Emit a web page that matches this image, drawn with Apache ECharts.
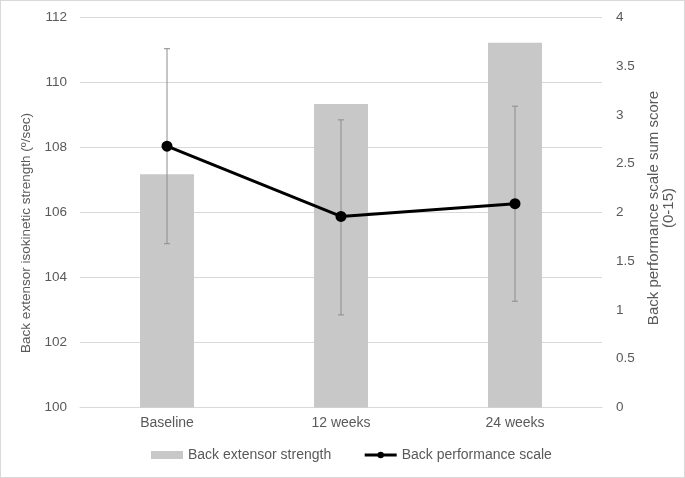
<!DOCTYPE html>
<html>
<head>
<meta charset="utf-8">
<script src="https://cdn.jsdelivr.net/npm/echarts@6/dist/echarts.min.js"></script>
<style>
	html, body { margin: 0; padding: 0; background: #fff; }
	#chart { width: 683px; height: 476px; border: 1px solid #d9d9d9; }
</style>
</head>
<body>
<div id="chart"></div>
<script>
	// 数据
	var categories = ['Baseline', '12 weeks', '24 weeks'];
	var strength = [107.18, 109.34, 111.22];      // 左轴 柱
	var performance = [2.68, 1.96, 2.09];          // 右轴 线
	var perfLow = [1.68, 0.95, 1.09];              // 误差下限
	var perfHigh = [3.68, 2.95, 3.09];             // 误差上限
	var leftTicks = { min: 100, max: 112, interval: 2 };
	var rightTicks = { min: 0, max: 4, interval: 0.5 };

	var errData = [];
	for (var i = 0; i < categories.length; i++) {
		errData.push([i, perfLow[i], perfHigh[i]]);
	}

	var txt = '#595959';
	var font = 'Liberation Sans';

	var myChart = echarts.init(document.getElementById('chart'));
	myChart.setOption({
		animation: false,
		textStyle: { fontFamily: font },
		grid: { left: 79, right: 81, top: 16.5, bottom: 69.5 },
		legend: {
			left: 145,
			top: 442,
			itemGap: 32,
			textStyle: { color: txt, fontSize: 14, fontFamily: font },
			data: [
				{ name: 'Back extensor strength', icon: 'rect', itemStyle: { color: '#c8c8c8' } },
				{ name: 'Back performance scale', lineStyle: { width: 3, color: '#000' } }
			],
			itemWidth: 32,
			itemHeight: 8
		},
		xAxis: {
			type: 'category',
			data: categories,
			axisLine: { lineStyle: { color: '#d9d9d9' } },
			axisTick: { show: false },
			axisLabel: { color: txt, fontSize: 14, margin: 9 }
		},
		yAxis: [{
			type: 'value',
			min: leftTicks.min, max: leftTicks.max, interval: leftTicks.interval,
			name: 'Back extensor isokinetic strength (º/sec)',
			nameLocation: 'middle',
			nameGap: 42,
			nameTextStyle: { color: txt, fontSize: 13.5, padding: [0, 41, 0, 0] },
			axisLabel: { color: txt, fontSize: 13.5, margin: 13 },
			splitLine: { lineStyle: { color: '#d9d9d9' } }
		}, {
			type: 'value',
			min: rightTicks.min, max: rightTicks.max, interval: rightTicks.interval,
			name: 'Back performance scale sum score\n(0-15)',
			nameLocation: 'middle',
			nameGap: 44,
			nameTextStyle: { color: txt, fontSize: 15, lineHeight: 15, padding: [0, 0, 0, 9] },
			axisLabel: { color: txt, fontSize: 13.5, margin: 14 },
			splitLine: { show: false }
		}],
		series: [{
			name: 'Back extensor strength',
			type: 'bar',
			data: strength,
			barWidth: '31%',
			itemStyle: { color: '#c8c8c8' },
			z: 1
		}, {
			name: 'err',
			type: 'custom',
			yAxisIndex: 1,
			data: errData,
			encode: { x: 0, y: [1, 2] },
			z: 2,
			renderItem: function (params, api) {
				var x = api.value(0);
				var lo = api.coord([x, api.value(1)]);
				var hi = api.coord([x, api.value(2)]);
				var style = { stroke: '#8c8c8c', lineWidth: 1 };
				return {
					type: 'group',
					children: [
						{ type: 'line', shape: { x1: lo[0], y1: lo[1], x2: hi[0], y2: hi[1] }, style: style },
						{ type: 'line', shape: { x1: hi[0] - 3, y1: hi[1], x2: hi[0] + 3, y2: hi[1] }, style: style },
						{ type: 'line', shape: { x1: lo[0] - 3, y1: lo[1], x2: lo[0] + 3, y2: lo[1] }, style: style }
					]
				};
			}
		}, {
			name: 'Back performance scale',
			type: 'line',
			yAxisIndex: 1,
			data: performance,
			symbol: 'circle',
			symbolSize: 11,
			lineStyle: { color: '#000', width: 3 },
			itemStyle: { color: '#000' },
			z: 3
		}]
	});
</script>
</body>
</html>
